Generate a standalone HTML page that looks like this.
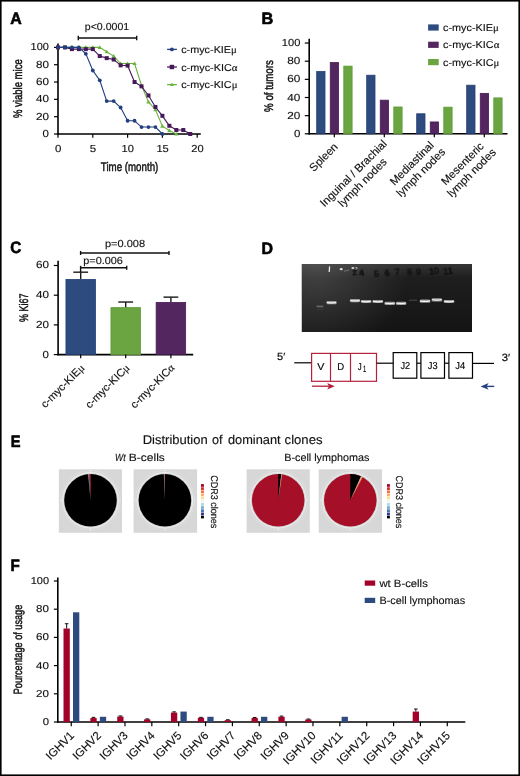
<!DOCTYPE html>
<html><head><meta charset="utf-8"><style>
html,body{margin:0;padding:0;background:#fff;}
svg{display:block;font-family:"Liberation Sans",sans-serif;will-change:transform;text-rendering:geometricPrecision;}
</style></head><body>
<svg width="520" height="776" viewBox="0 0 520 776">
<rect x="0" y="0" width="520" height="776" fill="#fff"/>
<text x="10.20" y="24" font-size="16.5" font-weight="bold" font-style="normal" fill="#000" stroke="#000" stroke-width="0.6" textLength="11.50" lengthAdjust="spacingAndGlyphs" >A</text>
<line x1="58.00" y1="43.50" x2="58.00" y2="134.70" stroke="#000" stroke-width="1.6" />
<line x1="57.30" y1="134.00" x2="200.80" y2="134.00" stroke="#000" stroke-width="1.6" />
<line x1="54.00" y1="134.00" x2="58.00" y2="134.00" stroke="#000" stroke-width="1.2" />
<line x1="54.00" y1="116.68" x2="58.00" y2="116.68" stroke="#000" stroke-width="1.2" />
<line x1="54.00" y1="99.36" x2="58.00" y2="99.36" stroke="#000" stroke-width="1.2" />
<line x1="54.00" y1="82.04" x2="58.00" y2="82.04" stroke="#000" stroke-width="1.2" />
<line x1="54.00" y1="64.72" x2="58.00" y2="64.72" stroke="#000" stroke-width="1.2" />
<line x1="54.00" y1="47.40" x2="58.00" y2="47.40" stroke="#000" stroke-width="1.2" />
<line x1="58.00" y1="134.00" x2="58.00" y2="137.80" stroke="#000" stroke-width="1.2" />
<line x1="92.80" y1="134.00" x2="92.80" y2="137.80" stroke="#000" stroke-width="1.2" />
<line x1="127.60" y1="134.00" x2="127.60" y2="137.80" stroke="#000" stroke-width="1.2" />
<line x1="162.40" y1="134.00" x2="162.40" y2="137.80" stroke="#000" stroke-width="1.2" />
<line x1="197.20" y1="134.00" x2="197.20" y2="137.80" stroke="#000" stroke-width="1.2" />
<text x="42.50" y="137" font-size="10.2" font-weight="normal" font-style="normal" fill="#111" stroke="#111" stroke-width="0.14" textLength="6.40" lengthAdjust="spacingAndGlyphs" >0</text>
<text x="35.90" y="120" font-size="10.2" font-weight="normal" font-style="normal" fill="#111" stroke="#111" stroke-width="0.14" textLength="13.00" lengthAdjust="spacingAndGlyphs" >20</text>
<text x="35.90" y="102" font-size="10.2" font-weight="normal" font-style="normal" fill="#111" stroke="#111" stroke-width="0.14" textLength="13.00" lengthAdjust="spacingAndGlyphs" >40</text>
<text x="35.90" y="85" font-size="10.2" font-weight="normal" font-style="normal" fill="#111" stroke="#111" stroke-width="0.14" textLength="13.00" lengthAdjust="spacingAndGlyphs" >60</text>
<text x="35.90" y="68" font-size="10.2" font-weight="normal" font-style="normal" fill="#111" stroke="#111" stroke-width="0.14" textLength="13.00" lengthAdjust="spacingAndGlyphs" >80</text>
<text x="30.60" y="50" font-size="10.2" font-weight="normal" font-style="normal" fill="#111" stroke="#111" stroke-width="0.14" textLength="18.31" lengthAdjust="spacingAndGlyphs" >100</text>
<text x="55.00" y="152" font-size="10.2" font-weight="normal" font-style="normal" fill="#111" stroke="#111" stroke-width="0.14" textLength="6.40" lengthAdjust="spacingAndGlyphs" >0</text>
<text x="89.80" y="152" font-size="10.2" font-weight="normal" font-style="normal" fill="#111" stroke="#111" stroke-width="0.14" textLength="6.40" lengthAdjust="spacingAndGlyphs" >5</text>
<text x="121.60" y="152" font-size="10.2" font-weight="normal" font-style="normal" fill="#111" stroke="#111" stroke-width="0.14" textLength="12.40" lengthAdjust="spacingAndGlyphs" >10</text>
<text x="156.40" y="152" font-size="10.2" font-weight="normal" font-style="normal" fill="#111" stroke="#111" stroke-width="0.14" textLength="12.40" lengthAdjust="spacingAndGlyphs" >15</text>
<text x="191.20" y="152" font-size="10.2" font-weight="normal" font-style="normal" fill="#111" stroke="#111" stroke-width="0.14" textLength="12.40" lengthAdjust="spacingAndGlyphs" >20</text>
<text x="100.80" y="171" font-size="12.4" font-weight="normal" font-style="normal" fill="#111" stroke="#111" stroke-width="0.45" textLength="57.50" lengthAdjust="spacingAndGlyphs" >Time (month)</text>
<text transform="translate(22.30,118.00) rotate(-90)" font-size="12.4" font-weight="normal" font-style="normal" fill="#111" stroke="#111" stroke-width="0.45" textLength="58.70" lengthAdjust="spacingAndGlyphs" >% viable mice</text>
<line x1="78.30" y1="38.00" x2="136.70" y2="38.00" stroke="#111" stroke-width="1.4" />
<line x1="78.30" y1="35.80" x2="78.30" y2="40.20" stroke="#111" stroke-width="1.4" />
<line x1="136.70" y1="35.80" x2="136.70" y2="40.20" stroke="#111" stroke-width="1.4" />
<text x="84.80" y="30" font-size="10.2" font-weight="normal" font-style="normal" fill="#111" stroke="#111" stroke-width="0.14" textLength="44.40" lengthAdjust="spacingAndGlyphs" >p&lt;0.0001</text>
<polyline points="58.00,47.40 64.96,47.40 71.92,47.40 78.88,47.40 85.84,47.40 92.80,47.40 99.76,47.40 106.72,51.73 113.68,56.06 120.64,63.51 127.60,63.51 134.56,63.51 141.52,85.50 148.48,101.96 155.44,109.75 162.40,126.21 169.36,130.54 176.32,134.00" fill="none" stroke="#6cb33f" stroke-width="1.1"/>
<path d="M58.00,45.30 L60.20,49.00 L55.80,49.00Z" fill="#6cb33f"/>
<path d="M64.96,45.30 L67.16,49.00 L62.76,49.00Z" fill="#6cb33f"/>
<path d="M71.92,45.30 L74.12,49.00 L69.72,49.00Z" fill="#6cb33f"/>
<path d="M78.88,45.30 L81.08,49.00 L76.68,49.00Z" fill="#6cb33f"/>
<path d="M85.84,45.30 L88.04,49.00 L83.64,49.00Z" fill="#6cb33f"/>
<path d="M92.80,45.30 L95.00,49.00 L90.60,49.00Z" fill="#6cb33f"/>
<path d="M99.76,45.30 L101.96,49.00 L97.56,49.00Z" fill="#6cb33f"/>
<path d="M106.72,49.63 L108.92,53.33 L104.52,53.33Z" fill="#6cb33f"/>
<path d="M113.68,53.96 L115.88,57.66 L111.48,57.66Z" fill="#6cb33f"/>
<path d="M120.64,61.41 L122.84,65.11 L118.44,65.11Z" fill="#6cb33f"/>
<path d="M127.60,61.41 L129.80,65.11 L125.40,65.11Z" fill="#6cb33f"/>
<path d="M134.56,61.41 L136.76,65.11 L132.36,65.11Z" fill="#6cb33f"/>
<path d="M141.52,83.40 L143.72,87.10 L139.32,87.10Z" fill="#6cb33f"/>
<path d="M148.48,99.86 L150.68,103.56 L146.28,103.56Z" fill="#6cb33f"/>
<path d="M155.44,107.65 L157.64,111.35 L153.24,111.35Z" fill="#6cb33f"/>
<path d="M162.40,124.11 L164.60,127.81 L160.20,127.81Z" fill="#6cb33f"/>
<path d="M169.36,128.44 L171.56,132.14 L167.16,132.14Z" fill="#6cb33f"/>
<path d="M176.32,131.90 L178.52,135.60 L174.12,135.60Z" fill="#6cb33f"/>
<polyline points="58.00,47.40 64.96,47.40 71.92,49.13 78.88,49.13 85.84,49.13 92.80,49.13 99.76,56.06 106.72,58.14 113.68,59.52 120.64,65.33 127.60,65.59 134.56,82.04 141.52,86.37 148.48,95.46 155.44,106.98 162.40,115.81 169.36,125.77 176.32,130.02 183.28,130.02 190.24,134.00" fill="none" stroke="#46185a" stroke-width="1.1"/>
<rect x="56.00" y="45.40" width="4.0" height="4.0" fill="#46185a"/>
<rect x="62.96" y="45.40" width="4.0" height="4.0" fill="#46185a"/>
<rect x="69.92" y="47.13" width="4.0" height="4.0" fill="#46185a"/>
<rect x="76.88" y="47.13" width="4.0" height="4.0" fill="#46185a"/>
<rect x="83.84" y="47.13" width="4.0" height="4.0" fill="#46185a"/>
<rect x="90.80" y="47.13" width="4.0" height="4.0" fill="#46185a"/>
<rect x="97.76" y="54.06" width="4.0" height="4.0" fill="#46185a"/>
<rect x="104.72" y="56.14" width="4.0" height="4.0" fill="#46185a"/>
<rect x="111.68" y="57.52" width="4.0" height="4.0" fill="#46185a"/>
<rect x="118.64" y="63.33" width="4.0" height="4.0" fill="#46185a"/>
<rect x="125.60" y="63.59" width="4.0" height="4.0" fill="#46185a"/>
<rect x="132.56" y="80.04" width="4.0" height="4.0" fill="#46185a"/>
<rect x="139.52" y="84.37" width="4.0" height="4.0" fill="#46185a"/>
<rect x="146.48" y="93.46" width="4.0" height="4.0" fill="#46185a"/>
<rect x="153.44" y="104.98" width="4.0" height="4.0" fill="#46185a"/>
<rect x="160.40" y="113.81" width="4.0" height="4.0" fill="#46185a"/>
<rect x="167.36" y="123.77" width="4.0" height="4.0" fill="#46185a"/>
<rect x="174.32" y="128.02" width="4.0" height="4.0" fill="#46185a"/>
<rect x="181.28" y="128.02" width="4.0" height="4.0" fill="#46185a"/>
<rect x="188.24" y="132.00" width="4.0" height="4.0" fill="#46185a"/>
<polyline points="58.00,47.40 64.96,47.40 71.92,47.40 78.88,47.40 85.84,53.81 92.80,70.52 99.76,80.31 106.72,101.09 113.68,101.09 120.64,107.50 127.60,120.75 134.56,120.75 141.52,127.07 148.48,127.07 155.44,127.07 162.40,134.00" fill="none" stroke="#213e7e" stroke-width="1.1"/>
<circle cx="58.00" cy="47.40" r="1.9" fill="#213e7e"/>
<circle cx="64.96" cy="47.40" r="1.9" fill="#213e7e"/>
<circle cx="71.92" cy="47.40" r="1.9" fill="#213e7e"/>
<circle cx="78.88" cy="47.40" r="1.9" fill="#213e7e"/>
<circle cx="85.84" cy="53.81" r="1.9" fill="#213e7e"/>
<circle cx="92.80" cy="70.52" r="1.9" fill="#213e7e"/>
<circle cx="99.76" cy="80.31" r="1.9" fill="#213e7e"/>
<circle cx="106.72" cy="101.09" r="1.9" fill="#213e7e"/>
<circle cx="113.68" cy="101.09" r="1.9" fill="#213e7e"/>
<circle cx="120.64" cy="107.50" r="1.9" fill="#213e7e"/>
<circle cx="127.60" cy="120.75" r="1.9" fill="#213e7e"/>
<circle cx="134.56" cy="120.75" r="1.9" fill="#213e7e"/>
<circle cx="141.52" cy="127.07" r="1.9" fill="#213e7e"/>
<circle cx="148.48" cy="127.07" r="1.9" fill="#213e7e"/>
<circle cx="155.44" cy="127.07" r="1.9" fill="#213e7e"/>
<circle cx="162.40" cy="134.00" r="1.9" fill="#213e7e"/>
<line x1="167.10" y1="49.40" x2="176.90" y2="49.40" stroke="#213e7e" stroke-width="1.3" />
<circle cx="171.9" cy="49.4" r="1.9" fill="#213e7e"/>
<text x="181.20" y="53" font-size="10.0" font-weight="normal" font-style="normal" fill="#111" stroke="#111" stroke-width="0.14" textLength="55.70" lengthAdjust="spacingAndGlyphs" >c-myc-KIE<tspan font-family="Liberation Serif">μ</tspan></text>
<line x1="167.10" y1="67.00" x2="176.90" y2="67.00" stroke="#46185a" stroke-width="1.3" />
<rect x="169.70000000000002" y="64.8" width="4.4" height="4.4" fill="#46185a"/>
<text x="181.20" y="71" font-size="10.0" font-weight="normal" font-style="normal" fill="#111" stroke="#111" stroke-width="0.14" textLength="56.30" lengthAdjust="spacingAndGlyphs" >c-myc-KIC<tspan font-family="Liberation Serif">α</tspan></text>
<line x1="167.10" y1="84.60" x2="176.90" y2="84.60" stroke="#6cb33f" stroke-width="1.3" />
<path d="M171.9,82.6 L173.9,86.1 L169.9,86.1Z" fill="#6cb33f"/>
<text x="181.20" y="88" font-size="10.0" font-weight="normal" font-style="normal" fill="#111" stroke="#111" stroke-width="0.14" textLength="56.30" lengthAdjust="spacingAndGlyphs" >c-myc-KIC<tspan font-family="Liberation Serif">μ</tspan></text>
<text x="261.50" y="24" font-size="16.5" font-weight="bold" font-style="normal" fill="#000" stroke="#000" stroke-width="0.6" textLength="11.80" lengthAdjust="spacingAndGlyphs" >B</text>
<line x1="309.20" y1="38.80" x2="309.20" y2="134.50" stroke="#000" stroke-width="1.6" />
<line x1="308.50" y1="133.80" x2="507.50" y2="133.80" stroke="#000" stroke-width="1.6" />
<line x1="304.80" y1="133.80" x2="309.20" y2="133.80" stroke="#000" stroke-width="1.2" />
<text x="293.90" y="137" font-size="10.2" font-weight="normal" font-style="normal" fill="#111" stroke="#111" stroke-width="0.14" textLength="6.40" lengthAdjust="spacingAndGlyphs" >0</text>
<line x1="304.80" y1="115.65" x2="309.20" y2="115.65" stroke="#000" stroke-width="1.2" />
<text x="287.20" y="119" font-size="10.2" font-weight="normal" font-style="normal" fill="#111" stroke="#111" stroke-width="0.14" textLength="13.10" lengthAdjust="spacingAndGlyphs" >20</text>
<line x1="304.80" y1="97.50" x2="309.20" y2="97.50" stroke="#000" stroke-width="1.2" />
<text x="287.20" y="101" font-size="10.2" font-weight="normal" font-style="normal" fill="#111" stroke="#111" stroke-width="0.14" textLength="13.10" lengthAdjust="spacingAndGlyphs" >40</text>
<line x1="304.80" y1="79.35" x2="309.20" y2="79.35" stroke="#000" stroke-width="1.2" />
<text x="287.20" y="82" font-size="10.2" font-weight="normal" font-style="normal" fill="#111" stroke="#111" stroke-width="0.14" textLength="13.10" lengthAdjust="spacingAndGlyphs" >60</text>
<line x1="304.80" y1="61.20" x2="309.20" y2="61.20" stroke="#000" stroke-width="1.2" />
<text x="287.20" y="64" font-size="10.2" font-weight="normal" font-style="normal" fill="#111" stroke="#111" stroke-width="0.14" textLength="13.10" lengthAdjust="spacingAndGlyphs" >80</text>
<line x1="304.80" y1="43.05" x2="309.20" y2="43.05" stroke="#000" stroke-width="1.2" />
<text x="281.80" y="46" font-size="10.2" font-weight="normal" font-style="normal" fill="#111" stroke="#111" stroke-width="0.14" textLength="18.51" lengthAdjust="spacingAndGlyphs" >100</text>
<rect x="316.70" y="71.58" width="8.30" height="62.22" fill="#2e4b7f" stroke="#223f72" stroke-width="0.8" />
<rect x="330.25" y="62.51" width="8.30" height="71.29" fill="#54265f" stroke="#481b55" stroke-width="0.8" />
<rect x="343.80" y="66.14" width="8.30" height="67.66" fill="#6ba542" stroke="#5b9a33" stroke-width="0.8" />
<line x1="334.30" y1="133.80" x2="334.30" y2="137.30" stroke="#000" stroke-width="1.2" />
<rect x="366.70" y="75.21" width="8.30" height="58.59" fill="#2e4b7f" stroke="#223f72" stroke-width="0.8" />
<rect x="380.25" y="100.17" width="8.30" height="33.63" fill="#54265f" stroke="#481b55" stroke-width="0.8" />
<rect x="393.80" y="106.98" width="8.30" height="26.82" fill="#6ba542" stroke="#5b9a33" stroke-width="0.8" />
<line x1="384.30" y1="133.80" x2="384.30" y2="137.30" stroke="#000" stroke-width="1.2" />
<rect x="416.70" y="113.78" width="8.30" height="20.02" fill="#2e4b7f" stroke="#223f72" stroke-width="0.8" />
<rect x="430.25" y="121.95" width="8.30" height="11.85" fill="#54265f" stroke="#481b55" stroke-width="0.8" />
<rect x="443.80" y="107.16" width="8.30" height="26.64" fill="#6ba542" stroke="#5b9a33" stroke-width="0.8" />
<line x1="434.30" y1="133.80" x2="434.30" y2="137.30" stroke="#000" stroke-width="1.2" />
<rect x="466.70" y="85.20" width="8.30" height="48.60" fill="#2e4b7f" stroke="#223f72" stroke-width="0.8" />
<rect x="480.25" y="93.36" width="8.30" height="40.44" fill="#54265f" stroke="#481b55" stroke-width="0.8" />
<rect x="493.80" y="97.90" width="8.30" height="35.90" fill="#6ba542" stroke="#5b9a33" stroke-width="0.8" />
<line x1="484.30" y1="133.80" x2="484.30" y2="137.30" stroke="#000" stroke-width="1.2" />
<rect x="428.10" y="24.40" width="10.60" height="6.20" fill="#2e4b7f" stroke="none" stroke-width="0" />
<text x="443.10" y="31" font-size="10.0" font-weight="normal" font-style="normal" fill="#111" stroke="#111" stroke-width="0.14" textLength="55.70" lengthAdjust="spacingAndGlyphs" >c-myc-KIE<tspan font-family="Liberation Serif">μ</tspan></text>
<rect x="428.10" y="41.70" width="10.60" height="6.20" fill="#54265f" stroke="none" stroke-width="0" />
<text x="443.10" y="48" font-size="10.0" font-weight="normal" font-style="normal" fill="#111" stroke="#111" stroke-width="0.14" textLength="56.30" lengthAdjust="spacingAndGlyphs" >c-myc-KIC<tspan font-family="Liberation Serif">α</tspan></text>
<rect x="428.10" y="59.00" width="10.60" height="6.20" fill="#6ba542" stroke="none" stroke-width="0" />
<text x="443.10" y="66" font-size="10.0" font-weight="normal" font-style="normal" fill="#111" stroke="#111" stroke-width="0.14" textLength="56.30" lengthAdjust="spacingAndGlyphs" >c-myc-KIC<tspan font-family="Liberation Serif">μ</tspan></text>
<text transform="translate(272.60,111.90) rotate(-90)" font-size="12.4" font-weight="normal" font-style="normal" fill="#111" stroke="#111" stroke-width="0.45" textLength="51.70" lengthAdjust="spacingAndGlyphs" >% of tumors</text>
<text transform="translate(326.17,159.83) rotate(-45)" text-anchor="middle" font-size="11.2" fill="#111" stroke="#111" stroke-width="0.14" textLength="34.87" lengthAdjust="spacingAndGlyphs">Spleen</text>
<text transform="translate(356.02,175.98) rotate(-45)" text-anchor="middle" font-size="11.2" fill="#111" stroke="#111" stroke-width="0.14" textLength="89.03" lengthAdjust="spacingAndGlyphs">Inguinal / Brachial</text>
<text transform="translate(365.07,185.03) rotate(-45)" text-anchor="middle" font-size="11.2" fill="#111" stroke="#111" stroke-width="0.14" textLength="63.50" lengthAdjust="spacingAndGlyphs">lymph nodes</text>
<text transform="translate(414.47,166.03) rotate(-45)" text-anchor="middle" font-size="11.2" fill="#111" stroke="#111" stroke-width="0.14" textLength="56.65" lengthAdjust="spacingAndGlyphs">Mediastinal</text>
<text transform="translate(423.52,175.08) rotate(-45)" text-anchor="middle" font-size="11.2" fill="#111" stroke="#111" stroke-width="0.14" textLength="63.50" lengthAdjust="spacingAndGlyphs">lymph nodes</text>
<text transform="translate(465.13,166.37) rotate(-45)" text-anchor="middle" font-size="11.2" fill="#111" stroke="#111" stroke-width="0.14" textLength="54.78" lengthAdjust="spacingAndGlyphs">Mesenteric</text>
<text transform="translate(474.18,175.42) rotate(-45)" text-anchor="middle" font-size="11.2" fill="#111" stroke="#111" stroke-width="0.14" textLength="63.50" lengthAdjust="spacingAndGlyphs">lymph nodes</text>
<text x="10.30" y="253" font-size="16.5" font-weight="bold" font-style="normal" fill="#000" stroke="#000" stroke-width="0.6" textLength="11.00" lengthAdjust="spacingAndGlyphs" >C</text>
<line x1="58.10" y1="260.80" x2="58.10" y2="355.30" stroke="#000" stroke-width="1.6" />
<line x1="57.40" y1="354.60" x2="193.20" y2="354.60" stroke="#000" stroke-width="1.6" />
<line x1="53.80" y1="354.60" x2="58.10" y2="354.60" stroke="#000" stroke-width="1.2" />
<text x="42.60" y="358" font-size="10.2" font-weight="normal" font-style="normal" fill="#111" stroke="#111" stroke-width="0.14" textLength="6.40" lengthAdjust="spacingAndGlyphs" >0</text>
<line x1="53.80" y1="324.90" x2="58.10" y2="324.90" stroke="#000" stroke-width="1.2" />
<text x="36.00" y="328" font-size="10.2" font-weight="normal" font-style="normal" fill="#111" stroke="#111" stroke-width="0.14" textLength="13.00" lengthAdjust="spacingAndGlyphs" >20</text>
<line x1="53.80" y1="295.20" x2="58.10" y2="295.20" stroke="#000" stroke-width="1.2" />
<text x="36.00" y="298" font-size="10.2" font-weight="normal" font-style="normal" fill="#111" stroke="#111" stroke-width="0.14" textLength="13.00" lengthAdjust="spacingAndGlyphs" >40</text>
<line x1="53.80" y1="265.50" x2="58.10" y2="265.50" stroke="#000" stroke-width="1.2" />
<text x="36.00" y="268" font-size="10.2" font-weight="normal" font-style="normal" fill="#111" stroke="#111" stroke-width="0.14" textLength="13.00" lengthAdjust="spacingAndGlyphs" >60</text>
<rect x="65.95" y="279.41" width="29.50" height="75.19" fill="#2e4b7f" stroke="#223f72" stroke-width="0.8" />
<line x1="80.70" y1="279.01" x2="80.70" y2="272.18" stroke="#1a1a1a" stroke-width="1.4" />
<line x1="73.30" y1="272.18" x2="88.10" y2="272.18" stroke="#1a1a1a" stroke-width="1.4" />
<line x1="80.70" y1="354.60" x2="80.70" y2="358.20" stroke="#000" stroke-width="1.2" />
<rect x="110.95" y="307.63" width="29.50" height="46.97" fill="#6ba542" stroke="#5b9a33" stroke-width="0.8" />
<line x1="125.70" y1="307.23" x2="125.70" y2="302.03" stroke="#1a1a1a" stroke-width="1.4" />
<line x1="118.30" y1="302.03" x2="133.10" y2="302.03" stroke="#1a1a1a" stroke-width="1.4" />
<line x1="125.70" y1="354.60" x2="125.70" y2="358.20" stroke="#000" stroke-width="1.2" />
<rect x="156.15" y="302.43" width="29.50" height="52.17" fill="#54265f" stroke="#481b55" stroke-width="0.8" />
<line x1="170.90" y1="302.03" x2="170.90" y2="297.13" stroke="#1a1a1a" stroke-width="1.4" />
<line x1="163.50" y1="297.13" x2="178.30" y2="297.13" stroke="#1a1a1a" stroke-width="1.4" />
<line x1="170.90" y1="354.60" x2="170.90" y2="358.20" stroke="#000" stroke-width="1.2" />
<line x1="80.60" y1="253.00" x2="169.00" y2="253.00" stroke="#111" stroke-width="1.4" />
<line x1="80.60" y1="251.00" x2="80.60" y2="255.00" stroke="#111" stroke-width="1.4" />
<line x1="169.00" y1="251.00" x2="169.00" y2="255.00" stroke="#111" stroke-width="1.4" />
<line x1="80.60" y1="267.80" x2="126.70" y2="267.80" stroke="#111" stroke-width="1.4" />
<line x1="80.60" y1="265.80" x2="80.60" y2="272.00" stroke="#111" stroke-width="1.4" />
<line x1="126.70" y1="265.80" x2="126.70" y2="269.80" stroke="#111" stroke-width="1.4" />
<text x="104.90" y="247" font-size="10.2" font-weight="normal" font-style="normal" fill="#111" stroke="#111" stroke-width="0.14" textLength="40.20" lengthAdjust="spacingAndGlyphs" >p=0.008</text>
<text x="83.30" y="264" font-size="10.2" font-weight="normal" font-style="normal" fill="#111" stroke="#111" stroke-width="0.14" textLength="39.60" lengthAdjust="spacingAndGlyphs" >p=0.006</text>
<text transform="translate(28.00,322.00) rotate(-90)" font-size="12.4" font-weight="normal" font-style="normal" fill="#111" stroke="#111" stroke-width="0.45" textLength="28.50" lengthAdjust="spacingAndGlyphs" >% Ki67</text>
<text transform="translate(65.21,388.49) rotate(-45)" text-anchor="middle" font-size="10.9" fill="#111" stroke="#111" stroke-width="0.14" textLength="56.54" lengthAdjust="spacingAndGlyphs">c-myc-KIE<tspan font-family="Liberation Serif">μ</tspan></text>
<text transform="translate(110.00,388.70) rotate(-45)" text-anchor="middle" font-size="10.9" fill="#111" stroke="#111" stroke-width="0.14" textLength="57.14" lengthAdjust="spacingAndGlyphs">c-myc-KIC<tspan font-family="Liberation Serif">μ</tspan></text>
<text transform="translate(154.99,388.71) rotate(-45)" text-anchor="middle" font-size="10.9" fill="#111" stroke="#111" stroke-width="0.14" textLength="57.16" lengthAdjust="spacingAndGlyphs">c-myc-KIC<tspan font-family="Liberation Serif">α</tspan></text>
<text x="261.50" y="254" font-size="16.5" font-weight="bold" font-style="normal" fill="#000" stroke="#000" stroke-width="0.6" textLength="11.50" lengthAdjust="spacingAndGlyphs" >D</text>
<defs><linearGradient id="gel" x1="0" y1="0" x2="0" y2="1"><stop offset="0" stop-color="#363636"/><stop offset="0.2" stop-color="#1e1e1e"/><stop offset="1" stop-color="#141414"/></linearGradient><radialGradient id="gelhl" cx="0.08" cy="0" r="0.55" gradientTransform="scale(1,2.5)"><stop offset="0" stop-color="#606060" stop-opacity="0.6"/><stop offset="1" stop-color="#555" stop-opacity="0"/></radialGradient><filter id="glow" x="-50%" y="-200%" width="200%" height="500%"><feGaussianBlur stdDeviation="0.55"/></filter><filter id="soft" x="-50%" y="-50%" width="200%" height="200%"><feGaussianBlur stdDeviation="0.35"/></filter></defs>
<rect x="301.80" y="264.00" width="170.20" height="68.00" fill="url(#gel)" stroke="none" stroke-width="0" />
<rect x="301.80" y="264.00" width="170.20" height="68.00" fill="url(#gelhl)" stroke="none" stroke-width="0" />
<rect x="326.4" y="301.0" width="10.3" height="3.2" rx="1.5" fill="#9a9a9a" filter="url(#glow)"/>
<path d="M326.8,301.7 Q331.6,302.8 336.3,301.7 L336.0,302.9 Q331.6,304.1 327.1,302.9 Z" fill="#f4f4f4" filter="url(#soft)"/>
<rect x="349.8" y="299.0" width="10.4" height="3.2" rx="1.5" fill="#9a9a9a" filter="url(#glow)"/>
<path d="M350.2,299.7 Q355.0,300.8 359.8,299.7 L359.5,300.9 Q355.0,302.1 350.5,300.9 Z" fill="#f4f4f4" filter="url(#soft)"/>
<rect x="360.8" y="299.9" width="10.6" height="3.2" rx="1.5" fill="#9a9a9a" filter="url(#glow)"/>
<path d="M361.2,300.6 Q366.1,301.7 371.0,300.6 L370.7,301.8 Q366.1,303.0 361.5,301.8 Z" fill="#f4f4f4" filter="url(#soft)"/>
<rect x="372.4" y="299.9" width="10.8" height="3.2" rx="1.5" fill="#9a9a9a" filter="url(#glow)"/>
<path d="M372.8,300.6 Q377.8,301.7 382.8,300.6 L382.5,301.8 Q377.8,303.0 373.1,301.8 Z" fill="#f4f4f4" filter="url(#soft)"/>
<rect x="384.4" y="301.7" width="10.8" height="3.2" rx="1.5" fill="#9a9a9a" filter="url(#glow)"/>
<path d="M384.8,302.4 Q389.8,303.5 394.8,302.4 L394.5,303.6 Q389.8,304.8 385.1,303.6 Z" fill="#f4f4f4" filter="url(#soft)"/>
<rect x="395.9" y="301.7" width="10.5" height="3.2" rx="1.5" fill="#9a9a9a" filter="url(#glow)"/>
<path d="M396.3,302.4 Q401.1,303.5 406.0,302.4 L405.7,303.6 Q401.1,304.8 396.6,303.6 Z" fill="#f4f4f4" filter="url(#soft)"/>
<rect x="419.6" y="299.6" width="10.8" height="3.2" rx="1.5" fill="#9a9a9a" filter="url(#glow)"/>
<path d="M420.0,300.3 Q425.0,301.4 430.0,300.3 L429.7,301.5 Q425.0,302.7 420.3,301.5 Z" fill="#f4f4f4" filter="url(#soft)"/>
<rect x="431.5" y="298.2" width="10.8" height="3.2" rx="1.5" fill="#9a9a9a" filter="url(#glow)"/>
<path d="M431.9,298.9 Q436.9,300.0 441.9,298.9 L441.6,300.1 Q436.9,301.3 432.2,300.1 Z" fill="#f4f4f4" filter="url(#soft)"/>
<rect x="443.6" y="299.9" width="10.8" height="3.2" rx="1.5" fill="#9a9a9a" filter="url(#glow)"/>
<path d="M444.0,300.6 Q449.0,301.7 454.0,300.6 L453.7,301.8 Q449.0,303.0 444.3,301.8 Z" fill="#f4f4f4" filter="url(#soft)"/>
<rect x="316.6" y="305.6" width="6.6" height="1.6" fill="#6a6a6a" filter="url(#glow)"/>
<rect x="316.6" y="308.6" width="6.6" height="1.2" fill="#383838" filter="url(#glow)"/>
<rect x="409" y="299.6" width="8" height="1.4" fill="#3a3a3a" filter="url(#glow)"/>
<g filter="url(#soft)">
<path d="M329.6,266.4 L329.2,272.0" stroke="#e8e8e8" stroke-width="1.3" fill="none"/>
<ellipse cx="341.2" cy="269.2" rx="1.6" ry="1.1" fill="#e0e0e0"/>
<ellipse cx="352.9" cy="268.0" rx="1.5" ry="1.0" fill="#d8d8d8"/>
<path d="M355.5,267.6 q1.5,-0.6 1.8,0.6 q-0.5,1 -1.4,0.9" stroke="#c8c8c8" stroke-width="0.9" fill="none"/>
<path d="M344,271.2 q3,-0.6 5,-1.2" stroke="#999" stroke-width="0.6" fill="none"/>
</g>
<text x="354.5" y="275.1" text-anchor="middle" font-family="Liberation Sans" font-weight="bold" font-size="9" fill="#0c0c0c" stroke="#0c0c0c" stroke-width="0.3" opacity="0.85" filter="url(#soft)" transform="rotate(-8 354.5 271.8)">z</text>
<text x="361.5" y="276.5" text-anchor="middle" font-family="Liberation Sans" font-weight="bold" font-size="9" fill="#0c0c0c" stroke="#0c0c0c" stroke-width="0.3" opacity="0.85" filter="url(#soft)" transform="rotate(-8 361.5 273.2)">4</text>
<text x="376.2" y="276.9" text-anchor="middle" font-family="Liberation Sans" font-weight="bold" font-size="9" fill="#0c0c0c" stroke="#0c0c0c" stroke-width="0.3" opacity="0.85" filter="url(#soft)" transform="rotate(-8 376.2 273.6)">5</text>
<text x="387.0" y="275.7" text-anchor="middle" font-family="Liberation Sans" font-weight="bold" font-size="9" fill="#0c0c0c" stroke="#0c0c0c" stroke-width="0.3" opacity="0.85" filter="url(#soft)" transform="rotate(-8 387.0 272.4)">6</text>
<text x="397.6" y="275.5" text-anchor="middle" font-family="Liberation Sans" font-weight="bold" font-size="9" fill="#0c0c0c" stroke="#0c0c0c" stroke-width="0.3" opacity="0.85" filter="url(#soft)" transform="rotate(-8 397.6 272.2)">7</text>
<text x="409.6" y="274.7" text-anchor="middle" font-family="Liberation Sans" font-weight="bold" font-size="9" fill="#0c0c0c" stroke="#0c0c0c" stroke-width="0.3" opacity="0.85" filter="url(#soft)" transform="rotate(-8 409.6 271.4)">8</text>
<text x="418.6" y="274.7" text-anchor="middle" font-family="Liberation Sans" font-weight="bold" font-size="9" fill="#0c0c0c" stroke="#0c0c0c" stroke-width="0.3" opacity="0.85" filter="url(#soft)" transform="rotate(-8 418.6 271.4)">9</text>
<text x="434.0" y="274.5" text-anchor="middle" font-family="Liberation Sans" font-weight="bold" font-size="9" fill="#0c0c0c" stroke="#0c0c0c" stroke-width="0.3" opacity="0.85" filter="url(#soft)" transform="rotate(-8 434.0 271.2)">10</text>
<text x="448.0" y="273.9" text-anchor="middle" font-family="Liberation Sans" font-weight="bold" font-size="9" fill="#0c0c0c" stroke="#0c0c0c" stroke-width="0.3" opacity="0.85" filter="url(#soft)" transform="rotate(-8 448.0 270.6)">11</text>
<text x="277.10" y="360" font-size="10.5" font-weight="normal" font-style="normal" fill="#000" stroke="#000" stroke-width="0.14" textLength="8.20" lengthAdjust="spacingAndGlyphs" >5′</text>
<line x1="294.25" y1="362.80" x2="311.25" y2="362.80" stroke="#000" stroke-width="1.2" />
<rect x="311.6" y="353.4" width="64.9" height="27.9" fill="none" stroke="#b5203f" stroke-width="1.2"/>
<line x1="330.50" y1="353.40" x2="330.50" y2="381.30" stroke="#b5203f" stroke-width="1.2" />
<line x1="350.50" y1="353.40" x2="350.50" y2="381.30" stroke="#b5203f" stroke-width="1.2" />
<text x="317.20" y="370" font-size="10.0" font-weight="normal" font-style="normal" fill="#000" stroke="#000" stroke-width="0.14" textLength="7.10" lengthAdjust="spacingAndGlyphs" >V</text>
<text x="337.30" y="370" font-size="10.0" font-weight="normal" font-style="normal" fill="#000" stroke="#000" stroke-width="0.14" textLength="6.90" lengthAdjust="spacingAndGlyphs" >D</text>
<text x="357.70" y="370" font-size="10.0" font-weight="normal" font-style="normal" fill="#000" stroke="#000" stroke-width="0.14" textLength="3.90" lengthAdjust="spacingAndGlyphs" >J</text>
<text x="363.00" y="372" font-size="9.0" font-weight="normal" font-style="normal" fill="#000" stroke="#000" stroke-width="0.14" textLength="3.30" lengthAdjust="spacingAndGlyphs" >1</text>
<line x1="376.50" y1="363.20" x2="393.20" y2="363.20" stroke="#000" stroke-width="1.2" />
<rect x="393.2" y="352.6" width="23.6" height="25.6" fill="none" stroke="#000" stroke-width="1.2"/>
<rect x="420.9" y="352.6" width="23.6" height="25.6" fill="none" stroke="#000" stroke-width="1.2"/>
<rect x="448.9" y="352.6" width="23.6" height="25.6" fill="none" stroke="#000" stroke-width="1.2"/>
<line x1="416.80" y1="363.20" x2="420.90" y2="363.20" stroke="#000" stroke-width="1.2" />
<line x1="444.50" y1="363.20" x2="448.90" y2="363.20" stroke="#000" stroke-width="1.2" />
<line x1="472.50" y1="363.40" x2="494.00" y2="363.40" stroke="#000" stroke-width="1.2" />
<text x="400.50" y="369" font-size="10.0" font-weight="normal" font-style="normal" fill="#000" stroke="#000" stroke-width="0.14" textLength="9.70" lengthAdjust="spacingAndGlyphs" >J2</text>
<text x="427.80" y="369" font-size="10.0" font-weight="normal" font-style="normal" fill="#000" stroke="#000" stroke-width="0.14" textLength="9.80" lengthAdjust="spacingAndGlyphs" >J3</text>
<text x="455.30" y="369" font-size="10.0" font-weight="normal" font-style="normal" fill="#000" stroke="#000" stroke-width="0.14" textLength="9.90" lengthAdjust="spacingAndGlyphs" >J4</text>
<text x="501.80" y="361" font-size="10.5" font-weight="normal" font-style="normal" fill="#000" stroke="#000" stroke-width="0.14" textLength="8.40" lengthAdjust="spacingAndGlyphs" >3′</text>
<line x1="312.00" y1="386.20" x2="331.00" y2="386.20" stroke="#b5203f" stroke-width="1.3" />
<path d="M334.8,386.2 L327.2,382.9 L329.0,386.2 L327.2,389.5 Z" fill="#b5203f"/>
<line x1="484.00" y1="386.40" x2="494.20" y2="386.40" stroke="#24427f" stroke-width="1.4" />
<path d="M480.6,386.4 L488.6,383.0 L486.6,386.4 L488.6,389.8 Z" fill="#24427f"/>
<text x="10.80" y="447" font-size="16.5" font-weight="bold" font-style="normal" fill="#000" stroke="#000" stroke-width="0.6" textLength="9.80" lengthAdjust="spacingAndGlyphs" >E</text>
<text x="142.70" y="444" font-size="12.8" font-weight="normal" font-style="normal" fill="#111" stroke="#111" stroke-width="0.14" textLength="65.00" lengthAdjust="spacingAndGlyphs" >Distribution</text>
<text x="211.90" y="444" font-size="12.8" font-weight="normal" font-style="normal" fill="#111" stroke="#111" stroke-width="0.14" textLength="10.57" lengthAdjust="spacingAndGlyphs" >of</text>
<text x="227.90" y="444" font-size="12.8" font-weight="normal" font-style="normal" fill="#111" stroke="#111" stroke-width="0.14" textLength="52.70" lengthAdjust="spacingAndGlyphs" >dominant</text>
<text x="284.60" y="444" font-size="12.8" font-weight="normal" font-style="normal" fill="#111" stroke="#111" stroke-width="0.14" textLength="37.90" lengthAdjust="spacingAndGlyphs" >clones</text>
<text x="115.10" y="461" font-size="10.5" font-weight="normal" font-style="italic" fill="#111" stroke="#111" stroke-width="0.14" textLength="10.59" lengthAdjust="spacingAndGlyphs" >Wt</text>
<text x="128.80" y="461" font-size="10.5" font-weight="normal" font-style="normal" fill="#111" stroke="#111" stroke-width="0.14" textLength="36.09" lengthAdjust="spacingAndGlyphs" >B-cells</text>
<text x="284.20" y="461" font-size="10.5" font-weight="normal" font-style="normal" fill="#111" stroke="#111" stroke-width="0.14" textLength="85.20" lengthAdjust="spacingAndGlyphs" >B-cell lymphomas</text>
<rect x="58.85" y="469.30" width="63.15" height="63.50" fill="#d7d7d7" stroke="none" stroke-width="0" />
<circle cx="90.5" cy="500.3" r="29.9" fill="none" stroke="#dedede" stroke-width="0.9"/>
<circle cx="90.5" cy="500.3" r="27.8" fill="none" stroke="#f3f5f5" stroke-width="0.8"/>
<line x1="90.50" y1="473.50" x2="90.50" y2="470.10" stroke="#f0f0f0" stroke-width="0.8"/>
<line x1="117.30" y1="500.30" x2="120.70" y2="500.30" stroke="#f0f0f0" stroke-width="0.8"/>
<line x1="90.50" y1="527.10" x2="90.50" y2="530.50" stroke="#f0f0f0" stroke-width="0.8"/>
<line x1="63.70" y1="500.30" x2="60.30" y2="500.30" stroke="#f0f0f0" stroke-width="0.8"/>
<circle cx="90.5" cy="500.3" r="26.3" fill="#000"/>
<path d="M90.5,500.3 L88.99,474.04 A26.3,26.3 0 0 1 90.59,474.00 Z" fill="#e02830"/>
<path d="M90.5,500.3 L88.07,474.11 A26.3,26.3 0 0 1 88.99,474.04 Z" fill="#74add1"/>
<rect x="133.60" y="469.30" width="63.50" height="63.50" fill="#d7d7d7" stroke="none" stroke-width="0" />
<circle cx="164.9" cy="500.3" r="29.9" fill="none" stroke="#dedede" stroke-width="0.9"/>
<circle cx="164.9" cy="500.3" r="27.8" fill="none" stroke="#f3f5f5" stroke-width="0.8"/>
<line x1="164.90" y1="473.50" x2="164.90" y2="470.10" stroke="#f0f0f0" stroke-width="0.8"/>
<line x1="191.70" y1="500.30" x2="195.10" y2="500.30" stroke="#f0f0f0" stroke-width="0.8"/>
<line x1="164.90" y1="527.10" x2="164.90" y2="530.50" stroke="#f0f0f0" stroke-width="0.8"/>
<line x1="138.10" y1="500.30" x2="134.70" y2="500.30" stroke="#f0f0f0" stroke-width="0.8"/>
<circle cx="164.9" cy="500.3" r="26.3" fill="#000"/>
<path d="M164.9,500.3 L164.17,474.01 A26.3,26.3 0 0 1 164.99,474.00 Z" fill="#f08070"/>
<path d="M164.9,500.3 L163.71,474.03 A26.3,26.3 0 0 1 164.17,474.01 Z" fill="#4575b4"/>
<rect x="246.60" y="469.30" width="63.20" height="63.50" fill="#d7d7d7" stroke="none" stroke-width="0" />
<circle cx="278.2" cy="500.3" r="29.9" fill="none" stroke="#dedede" stroke-width="0.9"/>
<circle cx="278.2" cy="500.3" r="27.8" fill="none" stroke="#f3f5f5" stroke-width="0.8"/>
<line x1="278.20" y1="473.50" x2="278.20" y2="470.10" stroke="#f0f0f0" stroke-width="0.8"/>
<line x1="305.00" y1="500.30" x2="308.40" y2="500.30" stroke="#f0f0f0" stroke-width="0.8"/>
<line x1="278.20" y1="527.10" x2="278.20" y2="530.50" stroke="#f0f0f0" stroke-width="0.8"/>
<line x1="251.40" y1="500.30" x2="248.00" y2="500.30" stroke="#f0f0f0" stroke-width="0.8"/>
<circle cx="278.2" cy="500.3" r="26.3" fill="#a50f28"/>
<path d="M278.2,500.3 L278.20,474.00 A26.3,26.3 0 0 1 281.31,474.19 Z" fill="#000"/>
<path d="M278.2,500.3 L281.31,474.19 A26.3,26.3 0 0 1 281.77,474.24 Z" fill="#d8eef2"/>
<path d="M278.2,500.3 L281.77,474.24 A26.3,26.3 0 0 1 282.22,474.31 Z" fill="#f0a050"/>
<rect x="318.70" y="469.30" width="63.30" height="63.50" fill="#d7d7d7" stroke="none" stroke-width="0" />
<circle cx="350.3" cy="500.3" r="29.9" fill="none" stroke="#dedede" stroke-width="0.9"/>
<circle cx="350.3" cy="500.3" r="27.8" fill="none" stroke="#f3f5f5" stroke-width="0.8"/>
<line x1="350.30" y1="473.50" x2="350.30" y2="470.10" stroke="#f0f0f0" stroke-width="0.8"/>
<line x1="377.10" y1="500.30" x2="380.50" y2="500.30" stroke="#f0f0f0" stroke-width="0.8"/>
<line x1="350.30" y1="527.10" x2="350.30" y2="530.50" stroke="#f0f0f0" stroke-width="0.8"/>
<line x1="323.50" y1="500.30" x2="320.10" y2="500.30" stroke="#f0f0f0" stroke-width="0.8"/>
<circle cx="350.3" cy="500.3" r="26.3" fill="#a50f28"/>
<path d="M350.3,500.3 L350.30,474.00 A26.3,26.3 0 0 1 361.00,476.27 Z" fill="#000"/>
<path d="M350.3,500.3 L361.00,476.27 A26.3,26.3 0 0 1 361.58,476.54 Z" fill="#abd9e9"/>
<path d="M350.3,500.3 L361.58,476.54 A26.3,26.3 0 0 1 362.32,476.91 Z" fill="#fee090"/>
<path d="M350.3,500.3 L362.32,476.91 A26.3,26.3 0 0 1 362.89,477.21 Z" fill="#f07040"/>
<rect x="201.00" y="484.10" width="2.90" height="2.70" fill="#a50026" stroke="none" stroke-width="0" />
<rect x="201.00" y="487.26" width="2.90" height="2.70" fill="#d73027" stroke="none" stroke-width="0" />
<rect x="201.00" y="490.42" width="2.90" height="2.70" fill="#f46d43" stroke="none" stroke-width="0" />
<rect x="201.00" y="493.58" width="2.90" height="2.70" fill="#fdae61" stroke="none" stroke-width="0" />
<rect x="201.00" y="496.74" width="2.90" height="2.70" fill="#fee090" stroke="none" stroke-width="0" />
<rect x="201.00" y="499.90" width="2.90" height="2.70" fill="#eef6f0" stroke="none" stroke-width="0" />
<rect x="201.00" y="503.06" width="2.90" height="2.70" fill="#abd9e9" stroke="none" stroke-width="0" />
<rect x="201.00" y="506.22" width="2.90" height="2.70" fill="#74add1" stroke="none" stroke-width="0" />
<rect x="201.00" y="509.38" width="2.90" height="2.70" fill="#4575b4" stroke="none" stroke-width="0" />
<rect x="201.00" y="512.54" width="2.90" height="2.70" fill="#313695" stroke="none" stroke-width="0" />
<rect x="201.00" y="515.70" width="2.90" height="2.70" fill="#000000" stroke="none" stroke-width="0" />
<rect x="387.00" y="484.10" width="2.90" height="2.70" fill="#a50026" stroke="none" stroke-width="0" />
<rect x="387.00" y="487.26" width="2.90" height="2.70" fill="#d73027" stroke="none" stroke-width="0" />
<rect x="387.00" y="490.42" width="2.90" height="2.70" fill="#f46d43" stroke="none" stroke-width="0" />
<rect x="387.00" y="493.58" width="2.90" height="2.70" fill="#fdae61" stroke="none" stroke-width="0" />
<rect x="387.00" y="496.74" width="2.90" height="2.70" fill="#fee090" stroke="none" stroke-width="0" />
<rect x="387.00" y="499.90" width="2.90" height="2.70" fill="#eef6f0" stroke="none" stroke-width="0" />
<rect x="387.00" y="503.06" width="2.90" height="2.70" fill="#abd9e9" stroke="none" stroke-width="0" />
<rect x="387.00" y="506.22" width="2.90" height="2.70" fill="#74add1" stroke="none" stroke-width="0" />
<rect x="387.00" y="509.38" width="2.90" height="2.70" fill="#4575b4" stroke="none" stroke-width="0" />
<rect x="387.00" y="512.54" width="2.90" height="2.70" fill="#313695" stroke="none" stroke-width="0" />
<rect x="387.00" y="515.70" width="2.90" height="2.70" fill="#000000" stroke="none" stroke-width="0" />
<text transform="translate(210.80,475.20) rotate(90)" font-size="9.8" font-weight="normal" font-style="normal" fill="#111" stroke="#111" stroke-width="0.14" textLength="53.10" lengthAdjust="spacingAndGlyphs" >CDR3 clones</text>
<text transform="translate(396.00,475.60) rotate(90)" font-size="9.8" font-weight="normal" font-style="normal" fill="#111" stroke="#111" stroke-width="0.14" textLength="52.70" lengthAdjust="spacingAndGlyphs" >CDR3 clones</text>
<text x="10.50" y="571" font-size="16.5" font-weight="bold" font-style="normal" fill="#000" stroke="#000" stroke-width="0.6" textLength="9.30" lengthAdjust="spacingAndGlyphs" >F</text>
<line x1="57.80" y1="577.50" x2="57.80" y2="722.70" stroke="#000" stroke-width="1.6" />
<line x1="57.10" y1="722.00" x2="465.30" y2="722.00" stroke="#000" stroke-width="1.6" />
<line x1="53.90" y1="722.00" x2="57.80" y2="722.00" stroke="#000" stroke-width="1.2" />
<text x="42.70" y="725" font-size="10.0" font-weight="normal" font-style="normal" fill="#111" stroke="#111" stroke-width="0.14" textLength="6.30" lengthAdjust="spacingAndGlyphs" >0</text>
<line x1="53.90" y1="693.80" x2="57.80" y2="693.80" stroke="#000" stroke-width="1.2" />
<text x="36.10" y="697" font-size="10.0" font-weight="normal" font-style="normal" fill="#111" stroke="#111" stroke-width="0.14" textLength="12.90" lengthAdjust="spacingAndGlyphs" >20</text>
<line x1="53.90" y1="665.60" x2="57.80" y2="665.60" stroke="#000" stroke-width="1.2" />
<text x="36.10" y="669" font-size="10.0" font-weight="normal" font-style="normal" fill="#111" stroke="#111" stroke-width="0.14" textLength="12.90" lengthAdjust="spacingAndGlyphs" >40</text>
<line x1="53.90" y1="637.40" x2="57.80" y2="637.40" stroke="#000" stroke-width="1.2" />
<text x="36.10" y="640" font-size="10.0" font-weight="normal" font-style="normal" fill="#111" stroke="#111" stroke-width="0.14" textLength="12.90" lengthAdjust="spacingAndGlyphs" >60</text>
<line x1="53.90" y1="609.20" x2="57.80" y2="609.20" stroke="#000" stroke-width="1.2" />
<text x="36.10" y="612" font-size="10.0" font-weight="normal" font-style="normal" fill="#111" stroke="#111" stroke-width="0.14" textLength="12.90" lengthAdjust="spacingAndGlyphs" >80</text>
<line x1="53.90" y1="581.00" x2="57.80" y2="581.00" stroke="#000" stroke-width="1.2" />
<text x="30.70" y="584" font-size="10.0" font-weight="normal" font-style="normal" fill="#111" stroke="#111" stroke-width="0.14" textLength="18.31" lengthAdjust="spacingAndGlyphs" >100</text>
<line x1="71.25" y1="722.00" x2="71.25" y2="726.20" stroke="#000" stroke-width="1.2" />
<rect x="63.50" y="628.52" width="6.30" height="93.48" fill="#a3002a" stroke="none" stroke-width="0" />
<line x1="66.65" y1="628.52" x2="66.65" y2="623.72" stroke="#111" stroke-width="1.0" />
<line x1="64.85" y1="623.72" x2="68.45" y2="623.72" stroke="#111" stroke-width="1.0" />
<rect x="73.00" y="612.30" width="6.30" height="109.70" fill="#2e4b7f" stroke="none" stroke-width="0" />
<text transform="translate(74.85,736.20) rotate(-45)" text-anchor="end" font-size="11.5" fill="#111" stroke="#111" stroke-width="0.14" textLength="34.51" lengthAdjust="spacingAndGlyphs">IGHV1</text>
<line x1="98.11" y1="722.00" x2="98.11" y2="726.20" stroke="#000" stroke-width="1.2" />
<rect x="90.36" y="718.05" width="6.30" height="3.95" fill="#a3002a" stroke="none" stroke-width="0" />
<line x1="93.51" y1="718.05" x2="93.51" y2="717.35" stroke="#111" stroke-width="1.0" />
<line x1="91.71" y1="717.35" x2="95.31" y2="717.35" stroke="#111" stroke-width="1.0" />
<rect x="99.86" y="716.78" width="6.30" height="5.22" fill="#2e4b7f" stroke="none" stroke-width="0" />
<text transform="translate(101.71,736.20) rotate(-45)" text-anchor="end" font-size="11.5" fill="#111" stroke="#111" stroke-width="0.14" textLength="34.51" lengthAdjust="spacingAndGlyphs">IGHV2</text>
<line x1="124.97" y1="722.00" x2="124.97" y2="726.20" stroke="#000" stroke-width="1.2" />
<rect x="117.22" y="716.50" width="6.30" height="5.50" fill="#a3002a" stroke="none" stroke-width="0" />
<line x1="120.37" y1="716.50" x2="120.37" y2="715.94" stroke="#111" stroke-width="1.0" />
<line x1="118.57" y1="715.94" x2="122.17" y2="715.94" stroke="#111" stroke-width="1.0" />
<text transform="translate(128.57,736.20) rotate(-45)" text-anchor="end" font-size="11.5" fill="#111" stroke="#111" stroke-width="0.14" textLength="34.51" lengthAdjust="spacingAndGlyphs">IGHV3</text>
<line x1="151.83" y1="722.00" x2="151.83" y2="726.20" stroke="#000" stroke-width="1.2" />
<rect x="144.08" y="719.32" width="6.30" height="2.68" fill="#a3002a" stroke="none" stroke-width="0" />
<line x1="147.23" y1="719.32" x2="147.23" y2="718.90" stroke="#111" stroke-width="1.0" />
<line x1="145.43" y1="718.90" x2="149.03" y2="718.90" stroke="#111" stroke-width="1.0" />
<text transform="translate(155.43,736.20) rotate(-45)" text-anchor="end" font-size="11.5" fill="#111" stroke="#111" stroke-width="0.14" textLength="34.51" lengthAdjust="spacingAndGlyphs">IGHV4</text>
<line x1="178.69" y1="722.00" x2="178.69" y2="726.20" stroke="#000" stroke-width="1.2" />
<rect x="170.94" y="712.55" width="6.30" height="9.45" fill="#a3002a" stroke="none" stroke-width="0" />
<line x1="174.09" y1="712.55" x2="174.09" y2="711.85" stroke="#111" stroke-width="1.0" />
<line x1="172.29" y1="711.85" x2="175.89" y2="711.85" stroke="#111" stroke-width="1.0" />
<rect x="180.44" y="711.57" width="6.30" height="10.43" fill="#2e4b7f" stroke="none" stroke-width="0" />
<text transform="translate(182.29,736.20) rotate(-45)" text-anchor="end" font-size="11.5" fill="#111" stroke="#111" stroke-width="0.14" textLength="34.51" lengthAdjust="spacingAndGlyphs">IGHV5</text>
<line x1="205.55" y1="722.00" x2="205.55" y2="726.20" stroke="#000" stroke-width="1.2" />
<rect x="197.80" y="717.77" width="6.30" height="4.23" fill="#a3002a" stroke="none" stroke-width="0" />
<line x1="200.95" y1="717.77" x2="200.95" y2="717.35" stroke="#111" stroke-width="1.0" />
<line x1="199.15" y1="717.35" x2="202.75" y2="717.35" stroke="#111" stroke-width="1.0" />
<rect x="207.30" y="716.78" width="6.30" height="5.22" fill="#2e4b7f" stroke="none" stroke-width="0" />
<text transform="translate(209.15,736.20) rotate(-45)" text-anchor="end" font-size="11.5" fill="#111" stroke="#111" stroke-width="0.14" textLength="34.51" lengthAdjust="spacingAndGlyphs">IGHV6</text>
<line x1="232.41" y1="722.00" x2="232.41" y2="726.20" stroke="#000" stroke-width="1.2" />
<rect x="224.66" y="720.17" width="6.30" height="1.83" fill="#a3002a" stroke="none" stroke-width="0" />
<line x1="227.81" y1="720.17" x2="227.81" y2="719.74" stroke="#111" stroke-width="1.0" />
<line x1="226.01" y1="719.74" x2="229.61" y2="719.74" stroke="#111" stroke-width="1.0" />
<text transform="translate(236.01,736.20) rotate(-45)" text-anchor="end" font-size="11.5" fill="#111" stroke="#111" stroke-width="0.14" textLength="34.51" lengthAdjust="spacingAndGlyphs">IGHV7</text>
<line x1="259.27" y1="722.00" x2="259.27" y2="726.20" stroke="#000" stroke-width="1.2" />
<rect x="251.52" y="718.05" width="6.30" height="3.95" fill="#a3002a" stroke="none" stroke-width="0" />
<line x1="254.67" y1="718.05" x2="254.67" y2="717.49" stroke="#111" stroke-width="1.0" />
<line x1="252.87" y1="717.49" x2="256.47" y2="717.49" stroke="#111" stroke-width="1.0" />
<rect x="261.02" y="716.78" width="6.30" height="5.22" fill="#2e4b7f" stroke="none" stroke-width="0" />
<text transform="translate(262.87,736.20) rotate(-45)" text-anchor="end" font-size="11.5" fill="#111" stroke="#111" stroke-width="0.14" textLength="34.51" lengthAdjust="spacingAndGlyphs">IGHV8</text>
<line x1="286.13" y1="722.00" x2="286.13" y2="726.20" stroke="#000" stroke-width="1.2" />
<rect x="278.38" y="716.78" width="6.30" height="5.22" fill="#a3002a" stroke="none" stroke-width="0" />
<line x1="281.53" y1="716.78" x2="281.53" y2="716.08" stroke="#111" stroke-width="1.0" />
<line x1="279.73" y1="716.08" x2="283.33" y2="716.08" stroke="#111" stroke-width="1.0" />
<text transform="translate(289.73,736.20) rotate(-45)" text-anchor="end" font-size="11.5" fill="#111" stroke="#111" stroke-width="0.14" textLength="34.51" lengthAdjust="spacingAndGlyphs">IGHV9</text>
<line x1="312.99" y1="722.00" x2="312.99" y2="726.20" stroke="#000" stroke-width="1.2" />
<rect x="305.24" y="719.46" width="6.30" height="2.54" fill="#a3002a" stroke="none" stroke-width="0" />
<line x1="308.39" y1="719.46" x2="308.39" y2="719.04" stroke="#111" stroke-width="1.0" />
<line x1="306.59" y1="719.04" x2="310.19" y2="719.04" stroke="#111" stroke-width="1.0" />
<text transform="translate(316.59,736.20) rotate(-45)" text-anchor="end" font-size="11.5" fill="#111" stroke="#111" stroke-width="0.14" textLength="40.91" lengthAdjust="spacingAndGlyphs">IGHV10</text>
<line x1="339.85" y1="722.00" x2="339.85" y2="726.20" stroke="#000" stroke-width="1.2" />
<rect x="341.60" y="716.78" width="6.30" height="5.22" fill="#2e4b7f" stroke="none" stroke-width="0" />
<text transform="translate(343.45,736.20) rotate(-45)" text-anchor="end" font-size="11.5" fill="#111" stroke="#111" stroke-width="0.14" textLength="40.05" lengthAdjust="spacingAndGlyphs">IGHV11</text>
<line x1="366.71" y1="722.00" x2="366.71" y2="726.20" stroke="#000" stroke-width="1.2" />
<text transform="translate(370.31,736.20) rotate(-45)" text-anchor="end" font-size="11.5" fill="#111" stroke="#111" stroke-width="0.14" textLength="40.91" lengthAdjust="spacingAndGlyphs">IGHV12</text>
<line x1="393.57" y1="722.00" x2="393.57" y2="726.20" stroke="#000" stroke-width="1.2" />
<text transform="translate(397.17,736.20) rotate(-45)" text-anchor="end" font-size="11.5" fill="#111" stroke="#111" stroke-width="0.14" textLength="40.91" lengthAdjust="spacingAndGlyphs">IGHV13</text>
<line x1="420.43" y1="722.00" x2="420.43" y2="726.20" stroke="#000" stroke-width="1.2" />
<rect x="412.68" y="711.57" width="6.30" height="10.43" fill="#a3002a" stroke="none" stroke-width="0" />
<line x1="415.83" y1="711.57" x2="415.83" y2="709.03" stroke="#111" stroke-width="1.0" />
<line x1="414.03" y1="709.03" x2="417.63" y2="709.03" stroke="#111" stroke-width="1.0" />
<text transform="translate(424.03,736.20) rotate(-45)" text-anchor="end" font-size="11.5" fill="#111" stroke="#111" stroke-width="0.14" textLength="40.91" lengthAdjust="spacingAndGlyphs">IGHV14</text>
<line x1="447.29" y1="722.00" x2="447.29" y2="726.20" stroke="#000" stroke-width="1.2" />
<text transform="translate(450.89,736.20) rotate(-45)" text-anchor="end" font-size="11.5" fill="#111" stroke="#111" stroke-width="0.14" textLength="40.91" lengthAdjust="spacingAndGlyphs">IGHV15</text>
<rect x="364.70" y="580.50" width="10.50" height="5.20" fill="#a3002a" stroke="none" stroke-width="0" />
<rect x="364.70" y="597.80" width="10.50" height="5.20" fill="#2e4b7f" stroke="none" stroke-width="0" />
<text x="379.42" y="587" font-size="10.6" font-weight="normal" font-style="normal" fill="#111" stroke="#111" stroke-width="0.14" textLength="48.38" lengthAdjust="spacingAndGlyphs" >wt B-cells</text>
<text x="379.40" y="604" font-size="10.6" font-weight="normal" font-style="normal" fill="#111" stroke="#111" stroke-width="0.14" textLength="85.70" lengthAdjust="spacingAndGlyphs" >B-cell lymphomas</text>
<text transform="translate(21.60,694.30) rotate(-90)" font-size="12.0" font-weight="normal" font-style="normal" fill="#111" stroke="#111" stroke-width="0.45" textLength="89.60" lengthAdjust="spacingAndGlyphs" >Pourcentage of usage</text>
<rect x="0.8" y="0.8" width="518.4" height="774.4" fill="none" stroke="#000" stroke-width="1.6"/>
</svg>
</body></html>
